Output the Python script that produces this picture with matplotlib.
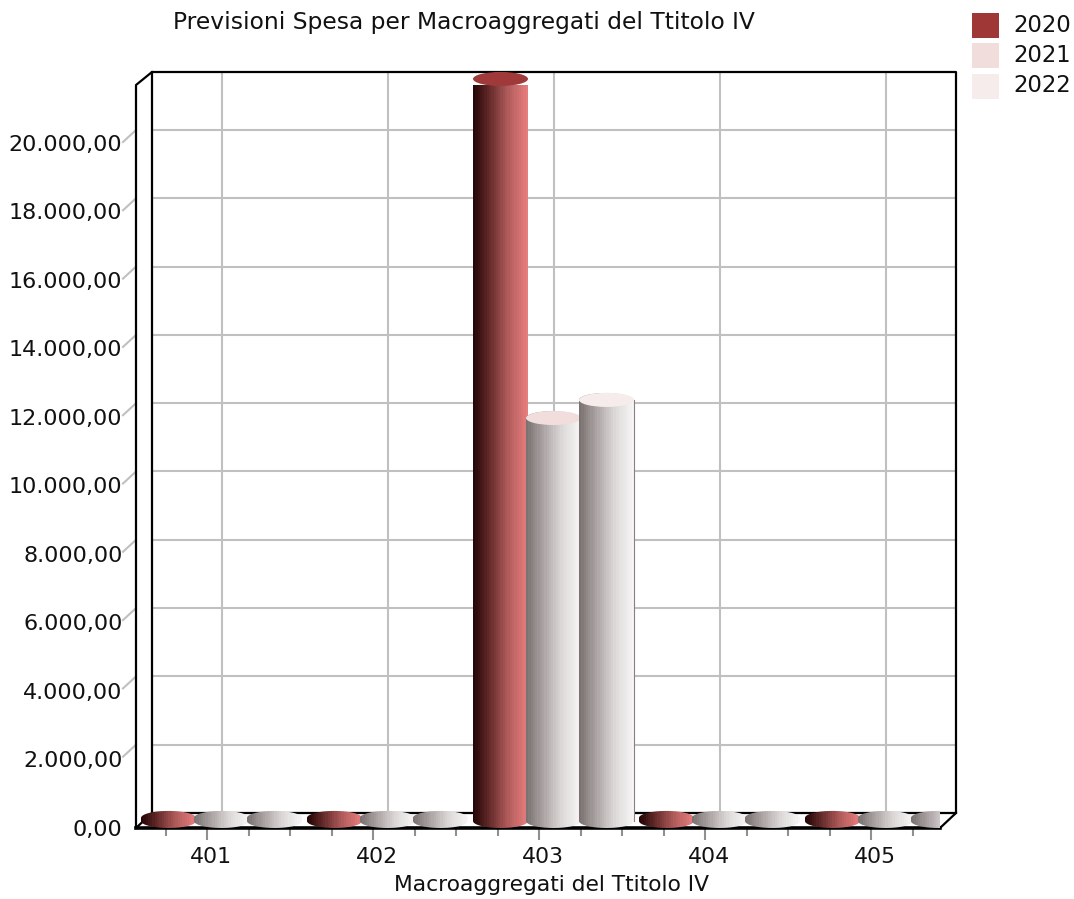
import numpy as np
import matplotlib
matplotlib.use("Agg")
import matplotlib.pyplot as plt
from matplotlib.path import Path
from matplotlib.patches import PathPatch, Ellipse, Rectangle
from matplotlib.colors import LinearSegmentedColormap

categories = ["401", "402", "403", "404", "405"]
series_names = ["2020", "2021", "2022"]
values_2020 = [90, 90, 21730, 90, 90]
values_2021 = [90, 90, 11800, 90, 90]
values_2022 = [90, 90, 12330, 90, 90]
y_ticks = list(range(0, 20001, 2000))
y_labels = ["0,00", "2.000,00", "4.000,00", "6.000,00", "8.000,00", "10.000,00",
            "12.000,00", "14.000,00", "16.000,00", "18.000,00", "20.000,00"]
title = "Previsioni Spesa per Macroaggregati del Ttitolo IV"
x_title = "Macroaggregati del Ttitolo IV"

W, H = 1074, 899
FONT = "DejaVu Sans"
TXT = "#111111"
fig = plt.figure(figsize=(W / 100, H / 100), dpi=100)

# plot front plane in pixels
L, R, B, T = 136, 940, 828, 85
PX_PER_CAT = 166.0
PX_PER_UNIT = 0.03415
ax = fig.add_axes([L / W, 1 - B / H, (R - L) / W, (B - T) / H])
ax.set_xlim((L - 207) / PX_PER_CAT, (R - 207) / PX_PER_CAT)
ax.set_ylim(0, (B - T) / PX_PER_UNIT)
ax.patch.set_visible(False)
for s in ax.spines.values():
    s.set_visible(False)
ax.set_xticks([])
ax.set_yticks([])


def dx(px):
    return px / PX_PER_CAT


def dy(px):
    return px / PX_PER_UNIT


x0, x1 = ax.get_xlim()
DX, DY = dx(16), dy(15)
ytop = (B - T) / PX_PER_UNIT
ywall = (B - 72) / PX_PER_UNIT

# back wall grid
GRID = "#c0c0c0"
for v in y_ticks:
    ax.plot([x0 + DX, x1 + DX], [v + DY, v + DY], color=GRID, lw=1.5,
            clip_on=False, zorder=1, solid_capstyle="butt")
for i in range(len(categories)):
    ax.plot([i + dx(14.5)] * 2, [DY, ywall], color=GRID, lw=1.5,
            clip_on=False, zorder=1, solid_capstyle="butt")

# frame
frame = dict(color="black", lw=1.6, clip_on=False, zorder=2)
ax.plot([x0, x0, x0 + DX, x1 + DX, x1 + DX, x0 + DX, x0 + DX],
        [0, ytop, ywall, ywall, DY, DY, ywall], **frame)
ax.plot([x0, x0 + DX], [0, DY], **frame)
ax.plot([x1, x1 + DX], [0, DY], **frame)
ax.plot([x0, x1], [0, 0], color="black", lw=2.6, clip_on=False, zorder=2)

# ticks
TICK = "#909090"
for v, lab in zip(y_ticks, y_labels):
    if v > 0:
        ax.plot([x0, x0 - dx(13)], [v + DY, v + DY - dy(12)], color=GRID, lw=1.5,
                clip_on=False, zorder=1)
    ax.text(x0 - dx(13.5), v * 1.003 - dy(2), lab, ha="right", va="center",
            fontsize=16, color=TXT, family=FONT, clip_on=False)
for i, c in enumerate(categories):
    ax.plot([i, i], [0, -dy(12)], color=TICK, lw=1.5, clip_on=False, zorder=1,
            solid_capstyle="butt")
    for k in (-2, -1, 1):
        if i == 0 and k == -2:
            continue
        ax.plot([i + k * 0.25] * 2, [0, -dy(8)], color=TICK, lw=1.5, clip_on=False,
                zorder=1, solid_capstyle="butt")
    ax.text(i + dx(4), -dy(29), c, ha="center", va="center", fontsize=15.8, color=TXT,
            family=FONT, clip_on=False)

# cylinders
ramp_red = LinearSegmentedColormap.from_list("r", ["#260606", "#6e3030", "#b55f5f", "#e67c7c"], N=24)
ramp_gray = LinearSegmentedColormap.from_list("g", ["#7c7272", "#b0a8a8", "#dedada", "#f6f4f4"], N=24)
series = [(values_2020, -1, ramp_red, "#a03a3a"),
          (values_2021, 0, ramp_gray, "#f2dddd"),
          (values_2022, 1, ramp_gray, "#f6ecec")]
BAR_W = dx(55)
CY = dy(7)          # base-centre lift
EH = dy(14)         # ellipse height
GX = dx(14.5)
grad = np.linspace(0, 1, 48).reshape(1, -1)

for order in range(3):
    vals, off, ramp, cap = series[order]
    for i, v in enumerate(vals):
        cx = i + GX + off * dx(53)
        l, r = cx - BAR_W / 2, cx + BAR_W / 2
        base, top = CY, CY + v
        t = np.linspace(np.pi, 2 * np.pi, 40)
        ex = cx + BAR_W / 2 * np.cos(t)
        ey_bot = base + EH / 2 * np.sin(t)
        t2 = np.linspace(0, np.pi, 40)
        ex2 = cx + BAR_W / 2 * np.cos(t2)
        ey_top = top + EH / 2 * np.sin(t2)
        xs = np.r_[ex, ex2, ex[0]]
        ys = np.r_[ey_bot, ey_top, ey_bot[0]]
        im = ax.imshow(grad, cmap=ramp, extent=(l, r, base - EH, top + EH), aspect="auto",
                       zorder=3 + order, interpolation="nearest")
        clip = PathPatch(Path(np.c_[xs, ys]), transform=ax.transData, fc="none", ec="none")
        ax.add_patch(clip)
        im.set_clip_path(clip)
        im.set_clip_on(True)
        if v > 1000:
            ax.add_patch(Ellipse((cx, top), BAR_W, EH, fc=cap, ec="none", zorder=3 + order + 0.5,
                                 clip_on=False))
            if order == 2:
                ax.plot([r, r], [base, top], color="#8a8080", lw=0.8, zorder=3 + order + 0.4,
                        clip_on=False)

ax.set_xlim(x0, x1)
ax.set_ylim(0, ytop)

# titles
fig.text(464 / W, 1 - 22 / H, title, ha="center", va="center", fontsize=16.8, color=TXT, family=FONT)
fig.text(551 / W, 1 - 885 / H, x_title, ha="center", va="center", fontsize=15.7, color=TXT, family=FONT)

# legend
for name, col, yc in zip(series_names, ["#a03737", "#f2dddd", "#f6ecec"], [25, 55, 86]):
    fig.patches.append(Rectangle((972 / W, 1 - (yc + 12.5) / H), 27 / W, 25 / H, transform=fig.transFigure,
                                 fc=col, ec="none", figure=fig))
    fig.text(1013 / W, 1 - yc / H, name, ha="left", va="center", fontsize=16.4, color=TXT, family=FONT)

fig.savefig("out.png", dpi=100, facecolor="white")
